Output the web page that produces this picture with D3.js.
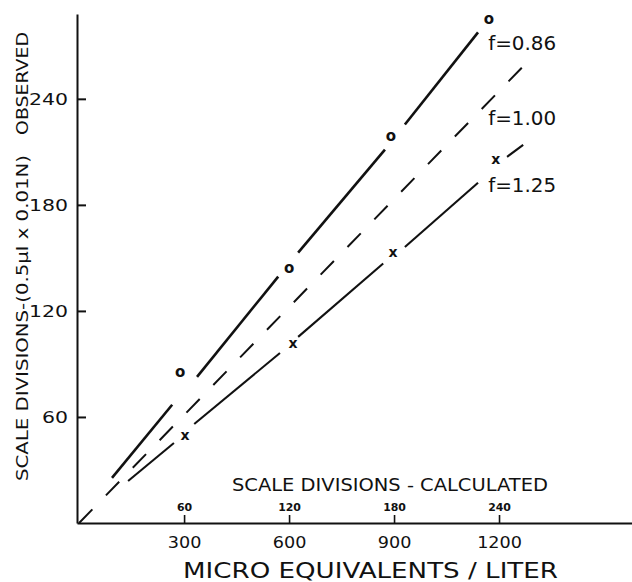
<!DOCTYPE html>
<html><head><meta charset="utf-8">
<script src="https://cdn.jsdelivr.net/npm/d3@7"></script>
<style>
body{margin:0;background:#fff}
text{font-family:"DejaVu Sans",sans-serif;fill:#111}
</style>
</head><body>
<svg id="c" width="632" height="582"></svg>
<script>
// ---- data ----
const xTicks = [300, 600, 900, 1200];                 // micro equivalents / liter
const calcTicks = [60, 120, 180, 240];                // scale divisions - calculated
const yTicks = [60, 120, 180, 240];                   // scale divisions observed

// f = 0.86 fitted line, drawn in pieces (gaps around the markers)
const f086Segments = [
  [[94, 25.5], [266, 66.9]],
  [[337, 82.7], [569, 139.4]],
  [[626, 153.0], [874, 211.3]],
  [[931, 225.5], [1140, 277.6]]
];
// f = 1.00 dashed line
const f100Line = [[0, 0], [1269, 258.4]];
// f = 1.25 fitted line pieces
const f125Segments = [
  [[140, 23.8], [271, 45.3]],
  [[329, 56.0], [574, 96.2]],
  [[626, 105.3], [869, 146.8]],
  [[931, 156.2], [1140, 192.5]],
  [[1223, 207.2], [1269, 214.0]]
];
// observed points
const oPoints = [[289, 85.5], [600, 144.5], [891, 218.7], [1171, 285.3]];
const xPoints = [[303, 49.8], [611, 101.9], [897, 153.4], [1191, 206.0]];

const lineLabels = ["f=0.86", "f=1.00", "f=1.25"];
const labelPos = [[1169, 271.7], [1169, 229.2], [1169, 191.3]];

// ---- chart ----
const svg = d3.select("#c");
const x = d3.scaleLinear().domain([-6, 1580]).range([77, 632]);
const xc = d3.scaleLinear().domain([-6 / 5, 1580 / 5]).range([77, 632]); // calculated divisions
const y = d3.scaleLinear().domain([0, 288]).range([523, 14]);

// y axis
const yAxis = svg.append("g")
  .attr("transform", `translate(${x(-6)},0)`)
  .call(d3.axisLeft(y).tickValues(yTicks).tickSizeInner(-9).tickSizeOuter(0).tickPadding(9).tickFormat(d3.format("d")));
yAxis.select(".domain").attr("stroke", "#111").attr("stroke-width", 2);
yAxis.selectAll(".tick line").attr("stroke", "#111").attr("stroke-width", 2);
yAxis.selectAll(".tick text").attr("font-size", 16.5)
  .attr("textLength", d => String(d).length * 13.0).attr("lengthAdjust", "spacingAndGlyphs");

// x axis (micro equivalents) – labels below
const xAxis = svg.append("g")
  .attr("transform", `translate(0,${y(0)})`)
  .call(d3.axisBottom(x).tickValues(xTicks).tickSize(0).tickPadding(14).tickFormat(d3.format("d")));
xAxis.select(".domain").attr("stroke", "#111").attr("stroke-width", 2);
xAxis.selectAll(".tick text").attr("font-size", 16)
  .attr("textLength", d => String(d).length * 11.2).attr("lengthAdjust", "spacingAndGlyphs");

// secondary scale (calculated divisions) – ticks up, small labels above
const cAxis = svg.append("g")
  .attr("transform", `translate(0,${y(0)})`)
  .call(d3.axisTop(xc).tickValues(calcTicks).tickSizeInner(8).tickSizeOuter(0).tickPadding(4).tickFormat(d3.format("d")));
cAxis.select(".domain").remove();
cAxis.selectAll(".tick line").attr("stroke", "#111").attr("stroke-width", 1.6);
cAxis.selectAll(".tick text").attr("font-size", 10).attr("font-weight", "bold")
  .attr("textLength", d => String(d).length * 7.6).attr("lengthAdjust", "spacingAndGlyphs");

// axis titles
svg.append("text").attr("x", 232).attr("y", 491).attr("font-size", 18)
  .attr("textLength", 316).attr("lengthAdjust", "spacingAndGlyphs")
  .text("SCALE DIVISIONS - CALCULATED");
svg.append("text").attr("x", 183).attr("y", 578).attr("font-size", 22)
  .attr("textLength", 375).attr("lengthAdjust", "spacingAndGlyphs")
  .text("MICRO EQUIVALENTS / LITER");
svg.append("text").attr("transform", "translate(28,481) rotate(-90)").attr("font-size", 16.5)
  .attr("textLength", 326).attr("lengthAdjust", "spacingAndGlyphs")
  .text("SCALE DIVISIONS-(0.5μl x 0.01N)");
svg.append("text").attr("transform", "translate(28,135) rotate(-90)").attr("font-size", 16.5)
  .attr("textLength", 103).attr("lengthAdjust", "spacingAndGlyphs")
  .text("OBSERVED");

// lines
const line = d3.line().x(d => x(d[0])).y(d => y(d[1]));
svg.append("g").selectAll("path").data(f086Segments).join("path")
  .attr("d", line).attr("fill", "none").attr("stroke", "#111").attr("stroke-width", 2.6);
svg.append("path").datum(f100Line).attr("d", line).attr("fill", "none")
  .attr("stroke", "#111").attr("stroke-width", 2).attr("stroke-dasharray", "19,19.5");
svg.append("g").selectAll("path").data(f125Segments).join("path")
  .attr("d", line).attr("fill", "none").attr("stroke", "#111").attr("stroke-width", 2.1);

// markers
svg.append("g").selectAll("text").data(oPoints).join("text")
  .attr("x", d => x(d[0])).attr("y", d => y(d[1])).attr("text-anchor", "middle")
  .attr("dominant-baseline", "central").attr("font-size", 15).attr("font-weight", "bold").text("o");
svg.append("g").selectAll("text").data(xPoints).join("text")
  .attr("x", d => x(d[0])).attr("y", d => y(d[1])).attr("text-anchor", "middle")
  .attr("dominant-baseline", "central").attr("font-size", 14).attr("font-weight", "bold").text("x");

// line labels
svg.append("g").selectAll("text").data(lineLabels).join("text")
  .attr("x", (d, i) => x(labelPos[i][0])).attr("y", (d, i) => y(labelPos[i][1]))
  .attr("dominant-baseline", "central").attr("font-size", 20)
  .attr("textLength", 68).attr("lengthAdjust", "spacingAndGlyphs").text(d => d);
</script>
</body></html>
